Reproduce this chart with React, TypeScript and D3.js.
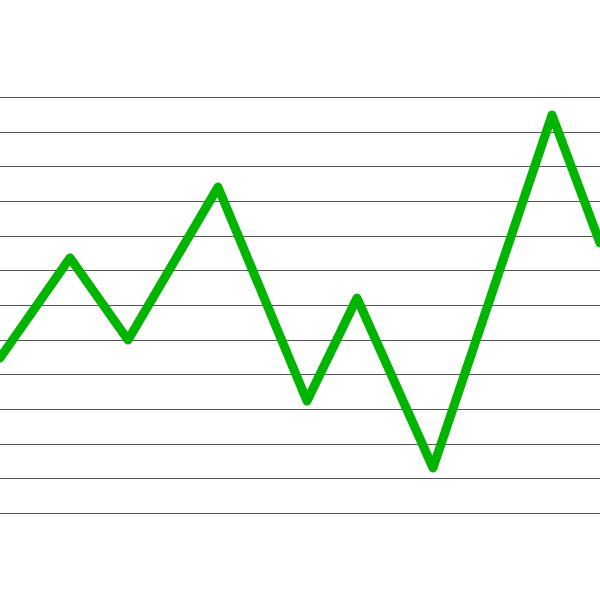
import React from "react";
import * as d3 from "d3";

const xValues = [0, 7, 12.8, 21.8, 30.7, 35.7, 43.3, 55.2, 60];
const yValues = [4.47, 7.36, 4.99, 9.4, 3.23, 6.2, 1.3, 11.48, 7.79];
const gridValues = d3.range(0, 13);

export default function App() {
  const W = 600, H = 600;
  const x = d3.scaleLinear().domain([0, 60]).range([0, 600]);
  const y = d3.scaleLinear().domain([0, 12]).range([513, 97]);
  const pts = xValues.map((v, i) => [v, yValues[i]] as [number, number]);
  const line = d3.line<[number, number]>().x(d => x(d[0])).y(d => y(d[1]));
  return (
    <svg width={W} height={H} style={{ position: "fixed", left: 0, top: 0, background: "#fff" }}>
      <rect width={W} height={H} fill="#fff" />
      {gridValues.map(g => (
        <line key={g} x1={0} x2={W} y1={Math.round(y(g)) + 0.5} y2={Math.round(y(g)) + 0.5} stroke="#555" strokeWidth={1} />
      ))}
      <path d={line(pts) || ""} fill="none" stroke="#00b400" strokeWidth={9} strokeLinejoin="round" strokeLinecap="round" />
    </svg>
  );
}
